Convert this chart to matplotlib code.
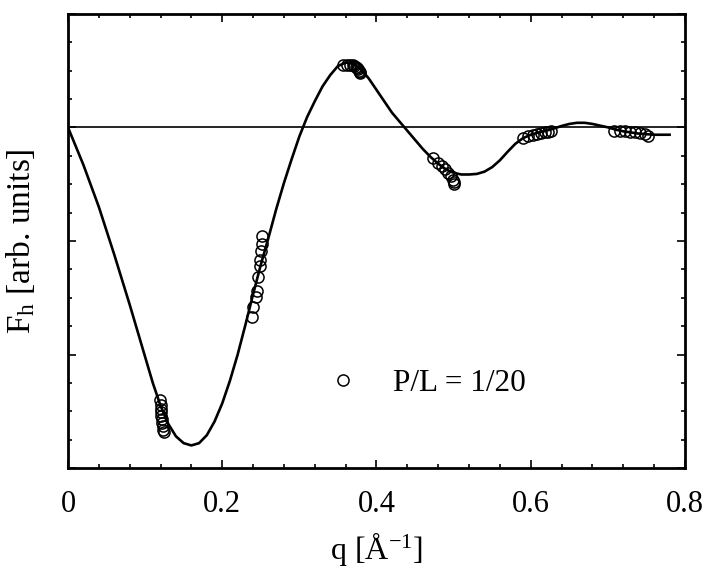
import numpy as np
import matplotlib
matplotlib.use("Agg")
import matplotlib.pyplot as plt
from matplotlib.ticker import MultipleLocator, NullFormatter

plt.rcParams['font.family'] = ['Liberation Serif', 'DejaVu Serif']
plt.rcParams['mathtext.fontset'] = 'custom'
plt.rcParams['mathtext.rm'] = 'Liberation Serif'
plt.rcParams['mathtext.it'] = 'Liberation Serif:italic'

# fit curve
curve_q = [0.00, 0.02, 0.04, 0.06, 0.08, 0.10, 0.11, 0.12, 0.13, 0.14, 0.15, 0.16,
           0.17, 0.18, 0.19, 0.20, 0.21, 0.22, 0.23, 0.24, 0.25, 0.26, 0.27, 0.28,
           0.29, 0.30, 0.31, 0.32, 0.33, 0.34, 0.35, 0.36, 0.37, 0.38, 0.39, 0.40,
           0.41, 0.42, 0.43, 0.44, 0.45, 0.46, 0.47, 0.48, 0.49, 0.50, 0.51, 0.52,
           0.53, 0.54, 0.55, 0.56, 0.57, 0.58, 0.59, 0.60, 0.61, 0.62, 0.63, 0.64,
           0.65, 0.66, 0.67, 0.68, 0.69, 0.70, 0.71, 0.72, 0.73, 0.74, 0.75, 0.76,
           0.78]
curve_F = [0.00, -0.33, -0.70, -1.12, -1.56, -2.02, -2.25, -2.45, -2.61, -2.72, -2.78, -2.80,
           -2.78, -2.71, -2.59, -2.43, -2.23, -2.00, -1.74, -1.47, -1.21, -0.97, -0.72, -0.49,
           -0.28, -0.08, 0.09, 0.23, 0.36, 0.46, 0.54, 0.57, 0.56, 0.51, 0.43, 0.33,
           0.23, 0.13, 0.05, -0.03, -0.11, -0.19, -0.26, -0.32, -0.37, -0.40, -0.415, -0.415,
           -0.41, -0.39, -0.35, -0.29, -0.215, -0.145, -0.095, -0.065, -0.045, -0.03, -0.01, 0.012,
           0.03, 0.04, 0.04, 0.03, 0.015, 0.0, -0.02, -0.035, -0.045, -0.055, -0.06, -0.065,
           -0.065]

# measured points, P/L = 1/20
data_q = [0.119, 0.120, 0.120, 0.121, 0.121, 0.122, 0.122, 0.123, 0.123, 0.124,
          0.239, 0.240, 0.244, 0.245, 0.247, 0.249, 0.249, 0.250, 0.251, 0.252,
          0.357, 0.362, 0.366, 0.369, 0.371, 0.373, 0.375, 0.376, 0.377, 0.378, 0.379,
          0.473, 0.480, 0.485, 0.489, 0.493, 0.497, 0.499, 0.500, 0.501,
          0.590, 0.597, 0.603, 0.608, 0.613, 0.619, 0.623, 0.626,
          0.708, 0.716, 0.722, 0.729, 0.735, 0.742, 0.748, 0.752]
data_F = [-2.40, -2.44, -2.48, -2.51, -2.54, -2.57, -2.60, -2.63, -2.66, -2.68,
          -1.67, -1.58, -1.49, -1.44, -1.32, -1.22, -1.17, -1.09, -1.03, -0.96,
          0.55, 0.55, 0.55, 0.545, 0.54, 0.53, 0.52, 0.51, 0.50, 0.49, 0.48,
          -0.27, -0.31, -0.34, -0.37, -0.40, -0.43, -0.46, -0.48, -0.50,
          -0.09, -0.08, -0.07, -0.06, -0.05, -0.045, -0.04, -0.035,
          -0.03, -0.03, -0.035, -0.04, -0.045, -0.05, -0.06, -0.075]

fig = plt.figure(figsize=(7.2, 5.73), dpi=100)
ax = fig.add_axes([0.0944, 0.183, 0.857, 0.793])

ax.axhline(0, color='black', lw=1.2, zorder=1)
ax.plot(curve_q, curve_F, color='black', lw=1.9, zorder=2)
ax.plot(data_q, data_F, 'o', ms=8, mfc='none', mec='black', mew=1.1,
        label='P/L = 1/20', zorder=3)

ax.set_xlim(0, 0.8)
ax.set_ylim(-3, 1)
ax.xaxis.set_major_locator(MultipleLocator(0.2))
ax.xaxis.set_minor_locator(MultipleLocator(0.04))
ax.yaxis.set_major_locator(MultipleLocator(1))
ax.yaxis.set_minor_locator(MultipleLocator(0.25))
ax.yaxis.set_major_formatter(NullFormatter())
ax.xaxis.set_major_formatter(plt.FuncFormatter(lambda v, p: '0' if v == 0 else '%.1f' % v))

ax.tick_params(which='both', direction='in', top=True, right=True, width=1.2)
ax.tick_params(which='major', length=6, labelsize=22, pad=16)
ax.tick_params(which='minor', length=3)
for s in ax.spines.values():
    s.set_linewidth(2)

ax.set_xlabel('q [Å$^{-1}$]', fontsize=23, labelpad=8)
ax.set_ylabel('F$_{\\rm h}$ [arb. units]', fontsize=24, labelpad=6)

ax.legend(loc='center left', bbox_to_anchor=(0.42, 0.187), frameon=False,
          fontsize=22.5, handlelength=1.0, handletextpad=1.1, borderpad=0,
          borderaxespad=0)

fig.savefig('out.png', dpi=100)
